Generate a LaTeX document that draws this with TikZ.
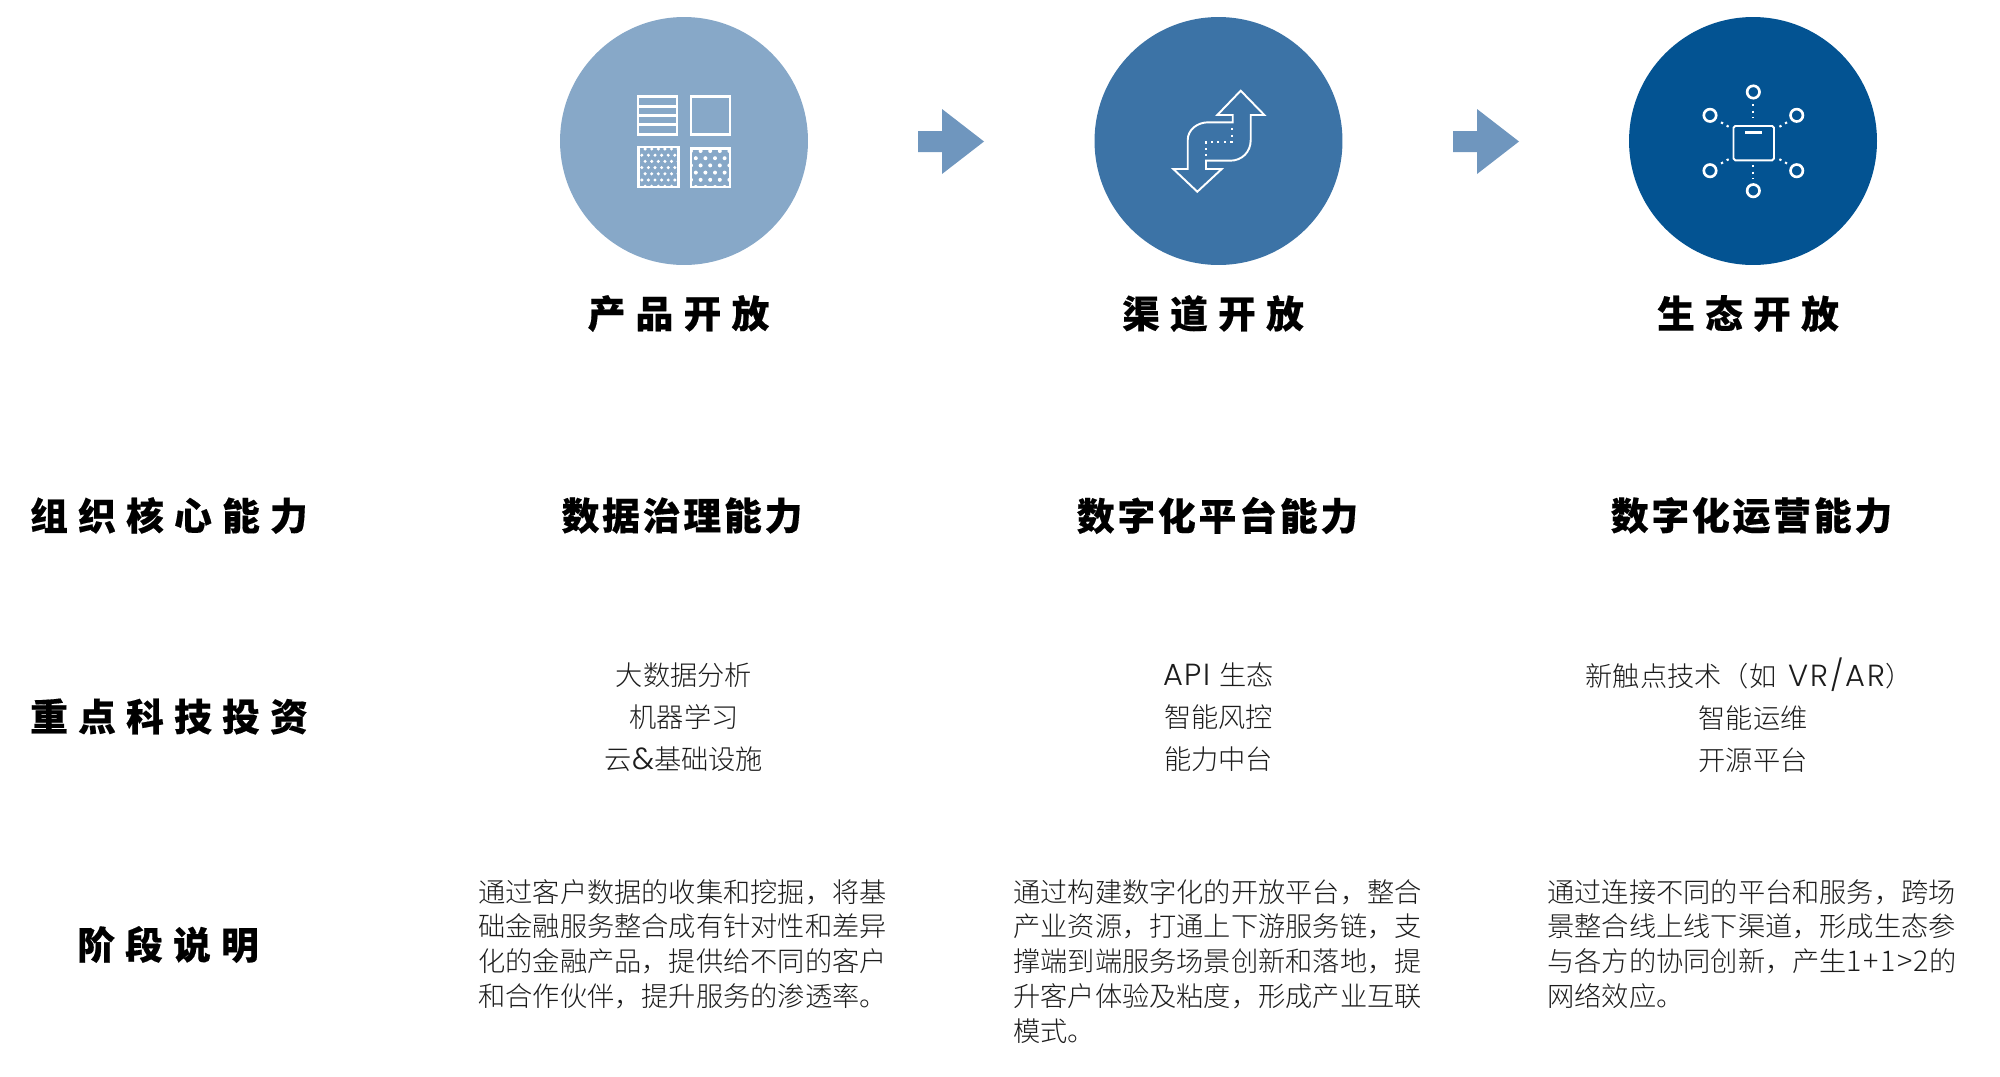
\documentclass[tikz,border=0pt]{standalone}
\usepackage{fontspec}
\newfontfamily\cjklight{Noto Sans CJK SC Light}
\newfontfamily\latlight[Scale=1.12,LetterSpace=6]{Poppins Light}
\newfontfamily\digitlight[LetterSpace=5,Scale=1.05]{Noto Sans CJK SC Light}
\newfontfamily\cjkwide[LetterSpace=27,FakeBold=0.4]{Noto Sans CJK SC Black}
\newfontfamily\cjknarrow[LetterSpace=7.5,FakeBold=0.4]{Noto Sans CJK SC Black}
\newcommand{\lat}[1]{{\latlight #1}}
\definecolor{paleblue}{HTML}{87A8C8}
\definecolor{midblue}{HTML}{3C73A6}
\definecolor{deepblue}{HTML}{035392}
\definecolor{arrowblue}{HTML}{6F96BE}
\definecolor{bodygray}{HTML}{1C1C1C}

\begin{document}
\begin{tikzpicture}[x=0.02cm, y=-0.02cm,
  stagecircle/.style={circle, minimum size=4.96cm, inner sep=0pt},
  stagetitle/.style={font=\cjkwide\fontsize{21.5}{24}\selectfont, inner sep=0pt},
  rowlabel/.style={font=\cjkwide\fontsize{21.5}{24}\selectfont, inner sep=0pt},
  abilityname/.style={font=\cjknarrow\fontsize{21.5}{24}\selectfont, inner sep=0pt},
  techlist/.style={font=\cjklight\fontsize{15.5}{23.9}\selectfont, text=bodygray, align=center, inner sep=0pt},
  stagetext/.style={font=\cjklight\fontsize{15.5}{19.75}\selectfont, text=bodygray, align=left, anchor=north west, inner sep=0pt},
  iconline/.style={draw=white, line width=1.5pt},
  iconthin/.style={draw=white, line width=1.1pt},
  icondots/.style={draw=white, line width=1.2pt, dash pattern=on 1.3pt off 2.4pt}]

\useasboundingbox (0,0) rectangle (2000,1076);

% Stage circles
\node[stagecircle, fill=paleblue] (productcircle) at (684,141) {};
\node[stagecircle, fill=midblue] (channelcircle) at (1218.5,141) {};
\node[stagecircle, fill=deepblue] (ecocircle) at (1753,141) {};

% Block arrows between the stages
\foreach \ax in {918,1453}{
  \fill[arrowblue] (\ax,131) -- (\ax+24,131) -- (\ax+24,109) -- (\ax+66,141.5) -- (\ax+24,174) -- (\ax+24,152) -- (\ax,152) -- cycle;
}

% Product icon
\draw[iconline] (638,96.5) rectangle (677,134.5);
\draw[iconline] (638,106.7) -- (677,106.7) (638,115.7) -- (677,115.7) (638,124.7) -- (677,124.7);
\draw[iconline] (691,96.5) rectangle (730,134.5);
% Dotted squares
\begin{scope}
\clip (638.5,147) rectangle (678.5,187);
\foreach \dy in {0,...,6}{
  \foreach \dx in {0,...,6}{
    \fill[white] ({638.5+6.6*\dx+3.3*mod(\dy,2)},{149+6.2*\dy}) circle (1.7);
  }
}
\end{scope}
\begin{scope}
\clip (691,148.5) rectangle (730,187);
\foreach \dy in {0,...,5}{
  \foreach \dx in {0,...,4}{
    \fill[white] ({691+9.6*\dx+4.8*mod(\dy,2)},{151+7.2*\dy}) circle (2);
  }
}
\end{scope}
\draw[iconline] (638.5,147) rectangle (678.5,187);
\draw[iconline] (691,148.5) rectangle (730,187);

% Channel icon
\draw[iconthin, line join=miter] (1240.7,90.7) -- (1264.3,115) -- (1250.7,115) -- (1250.7,140)
  .. controls (1250.7,152) and (1242,160.7) .. (1230,160.7) -- (1206,160.7) -- (1206,169) -- (1221.7,169)
  -- (1197.3,191.7) -- (1173.3,169) -- (1187.7,169) -- (1187.7,140)
  .. controls (1187.7,130) and (1197,122.3) .. (1208.3,122.3) -- (1232.7,122.3) -- (1232.7,115) -- (1217.3,115) -- cycle;
\draw[icondots] (1231.7,128) -- (1231.7,141.7) -- (1206,141.7) -- (1206,156);

% Ecosystem icon
\draw[iconthin, rounded corners=1pt] (1733.5,126) rectangle (1774,160.3);
\draw[iconline] (1745,132.3) -- (1762.3,132.3);
\foreach \px/\py in {1753.3/92, 1710/115.3, 1796.7/115.3, 1710/170.7, 1796.7/170.7, 1753.3/190.7}{
  \draw[iconline] (\px,\py) circle (6.2);
}
\draw[icondots] (1753.3,104) -- (1753.3,118);
\draw[icondots] (1753.3,165) -- (1753.3,179);
\draw[icondots] (1721,122.3) -- (1729,127);
\draw[icondots] (1787,122.3) -- (1779,127);
\draw[icondots] (1721,163.5) -- (1729,159);
\draw[icondots] (1787,163.5) -- (1779,159);

% Stage titles
\node[stagetitle] (producttitle) at (678.5,313.5) {产品开放};
\node[stagetitle] (channeltitle) at (1213,313.5) {渠道开放};
\node[stagetitle] (ecotitle) at (1748,313.5) {生态开放};

% Row labels
\node[rowlabel] (corelabel) at (169,515.5) {组织核心能力};
\node[rowlabel] (techlabel) at (169,716.5) {重点科技投资};
\node[rowlabel] (phaselabel) at (168,944.5) {阶段说明};

% Core abilities
\node[abilityname] (dataability) at (682,515.5) {数据治理能力};
\node[abilityname] (platformability) at (1217.5,515.5) {数字化平台能力};
\node[abilityname] (operationability) at (1751.5,515.5) {数字化运营能力};

% Key technology
\node[techlist] (producttech) at (684,717) {大数据分析\\机器学习\\云\lat{\&}基础设施};
\node[techlist] (channeltech) at (1218.5,717) {\lat{API}\hspace{5pt}生态\\智能风控\\能力中台};
\node[techlist] (ecotech) at (1753,715) {新触点技术（如\hspace{7pt}\lat{VR/AR}）\hspace*{4.5pt}\\智能运维\\开源平台};

% Stage notes
\node[stagetext] (productnote) at (478,879) {通过客户数据的收集和挖掘，将基\\础金融服务整合成有针对性和差异\\化的金融产品，提供给不同的客户\\和合作伙伴，提升服务的渗透率。};
\node[stagetext] (channelnote) at (1013,879) {通过构建数字化的开放平台，整合\\产业资源，打通上下游服务链，支\\撑端到端服务场景创新和落地，提\\升客户体验及粘度，形成产业互联\\模式。};
\node[stagetext] (econote) at (1547,879) {通过连接不同的平台和服务，跨场\\景整合线上线下渠道，形成生态参\\与各方的协同创新，产生{\digitlight 1+1>2}的\\网络效应。};

\end{tikzpicture}
\end{document}
